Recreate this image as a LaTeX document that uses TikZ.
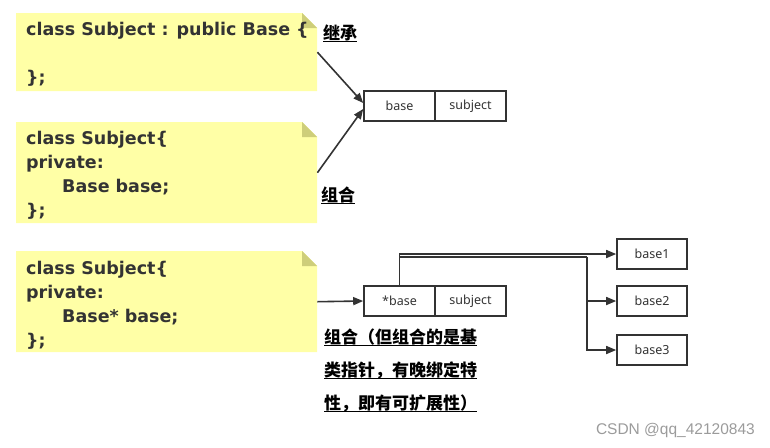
\documentclass[tikz,border=0pt]{standalone}
\usepackage{fontspec}
\setmainfont{DejaVu Sans}
\newfontfamily\cjk{Noto Sans CJK SC}
\newfontfamily\boxf{Noto Sans}
\newfontfamily\wmf{Liberation Sans}
\usetikzlibrary{arrows.meta}
\definecolor{noteY}{RGB}{255,255,166}
\definecolor{noteF}{RGB}{206,206,122}
\definecolor{ink}{RGB}{51,51,51}
\definecolor{wm}{RGB}{155,155,155}
\newcommand\ulx[1]{\setbox0\hbox{#1}\rlap{\raisebox{-3pt}{\rule{\wd0}{1.5pt}}}\box0}
\tikzset{
  codeline/.style={anchor=base west, inner sep=0pt, text=ink, font=\fontsize{17.5}{24}\selectfont\bfseries},
  notebox/.style={anchor=north west, inner sep=0pt, minimum width=301pt},
  cell/.style={draw=ink, line width=1.6pt, minimum width=71pt, minimum height=30pt, inner sep=0pt, text=ink, font=\boxf\fontsize{12.5}{14}\selectfont},
  tbox/.style={draw=ink, line width=1.6pt, minimum width=70pt, minimum height=30pt, inner sep=0pt, text=ink, font=\boxf\fontsize{12.5}{14}\selectfont},
  arr/.style={draw=ink, line width=1.6pt, -{Triangle[length=10pt,width=8pt]}},
  lbl/.style={anchor=base west, inner sep=0pt, text=black, font=\cjk\bfseries\fontsize{17}{20}\selectfont},
}
\begin{document}
\begin{tikzpicture}[x=1pt,y=-1pt]
\useasboundingbox (0,0) rectangle (770,447);
% notes
\fill[noteY] (16,13) -- (302,13) -- (317,28) -- (317,91) -- (16,91) -- cycle;
\fill[noteF] (302,13) -- (302,28) -- (317,28) -- cycle;
\fill[noteY] (16,122) -- (302,122) -- (317,137) -- (317,223) -- (16,223) -- cycle;
\fill[noteF] (302,122) -- (302,137) -- (317,137) -- cycle;
\fill[noteY] (16,251) -- (302,251) -- (317,266) -- (317,352) -- (16,352) -- cycle;
\fill[noteF] (302,251) -- (302,266) -- (317,266) -- cycle;
\node[notebox, minimum height=78pt] (note1) at (16,13) {};
\node[notebox, minimum height=101pt] (note2) at (16,122) {};
\node[notebox, minimum height=101pt] (note3) at (16,251) {};
% code
\node[codeline] (c11) at (26,35) {class Subject : public Base \{};
\node[codeline] (c13) at (26,83) {\};};
\node[codeline] (c21) at (26,144) {class Subject\{};
\node[codeline] (c22) at (26,168) {private:};
\node[codeline] (c23) at (62,192) {Base base;};
\node[codeline] (c24) at (26,216) {\};};
\node[codeline] (c31) at (26,274) {class Subject\{};
\node[codeline] (c32) at (26,298) {private:};
\node[codeline] (c33) at (62,322) {Base* base;};
\node[codeline] (c34) at (26,346) {\};};
% boxes
\node[cell] (b1a) at (399.5,106) {base};
\node[cell] (b1b) at (470.5,106) {subject};
\node[cell] (b2a) at (399.5,301) {*base};
\node[cell] (b2b) at (470.5,301) {subject};
\node[tbox] (t1) at (652,254) {base1};
\node[tbox] (t2) at (652,301) {base2};
\node[tbox] (t3) at (652,350) {base3};
% connectors
\draw[arr] (note1.east) -- ([yshift=3pt]b1a.west);
\draw[arr] (note2.east) -- ([yshift=-3pt]b1a.west);
\draw[arr] (note3.east) -- (b2a.west);
\coordinate (j1) at (400,257);
\coordinate (j2) at (587,257);
\draw[arr] (b2a.north) |- (t1.west);
\draw[draw=ink, line width=1.6pt] (b2a.north) -- (b2a.north |- j1) -- (j2);
\draw[arr] (j2) |- (t2.west);
\draw[arr] (j2) |- (t3.west);
% labels
\node[lbl] (l1) at (323,39) {\ulx{继承}};
\node[lbl] (l2) at (321,201) {\ulx{组合}};
\node[lbl] (l3) at (324,343) {\ulx{组合（但组合的是基}};
\node[lbl] (l4) at (324,376) {\ulx{类指针，有晚绑定特}};
\node[lbl] (l5) at (324,409) {\ulx{性，即有可扩展性）}};
% watermark
\node[anchor=east, inner sep=0pt, text=wm, font=\wmf\fontsize{15.5}{18}\selectfont] (wmk) at (755,430) {CSDN @qq\_42120843};
\end{tikzpicture}
\end{document}
